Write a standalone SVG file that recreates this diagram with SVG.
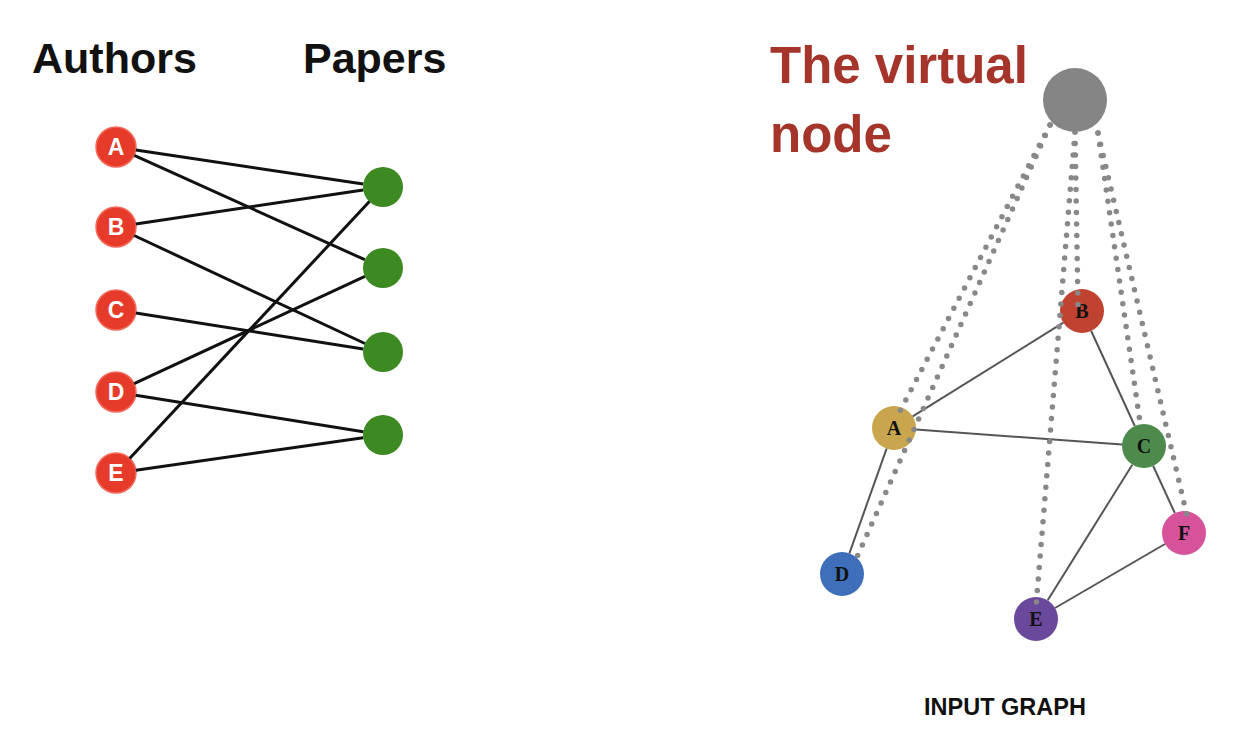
<svg xmlns="http://www.w3.org/2000/svg" width="1246" height="738" viewBox="0 0 1246 738">
<style>
.title{font-family:"Liberation Sans",Arial,sans-serif;font-weight:bold;font-size:43px;fill:#111}
.red{font-family:"Liberation Sans",Arial,sans-serif;font-weight:bold;font-size:51px;fill:#a5352a}
.cap{font-family:"Liberation Sans",Arial,sans-serif;font-weight:bold;font-size:23.5px;fill:#111}
.au{fill:#e63a2a;stroke:#f26a5c;stroke-width:1.5}
.aul{font-family:"Liberation Sans",Arial,sans-serif;font-weight:bold;font-size:23px;fill:#fff;text-anchor:middle}
.pa{fill:#3d8a22}
.gl{font-family:"Liberation Serif","Times New Roman",serif;font-weight:bold;font-size:20px;fill:#111;text-anchor:middle}
.bl{stroke:#111;stroke-width:3;fill:none}
.gr{stroke:#555;stroke-width:2;fill:none}
.dot{stroke:#888;stroke-width:5.5;stroke-linecap:round;stroke-dasharray:0 11.5;fill:none}
</style>
<rect width="1246" height="738" fill="#fff"/>
<text class="title" x="32" y="73">Authors</text>
<text class="title" x="303" y="73">Papers</text>
<text class="red" x="770" y="83">The virtual</text>
<text class="red" x="770" y="152">node</text>
<text class="cap" x="1005" y="715" text-anchor="middle">INPUT GRAPH</text>

<g id="author-A"><circle class="au" cx="116" cy="147" r="20"/><text class="aul" x="116" y="155">A</text></g>
<g id="author-B"><circle class="au" cx="116" cy="227" r="20"/><text class="aul" x="116" y="235">B</text></g>
<g id="author-C"><circle class="au" cx="116" cy="310" r="20"/><text class="aul" x="116" y="318">C</text></g>
<g id="author-D"><circle class="au" cx="116" cy="392" r="20"/><text class="aul" x="116" y="400">D</text></g>
<g id="author-E"><circle class="au" cx="116" cy="473" r="20"/><text class="aul" x="116" y="481">E</text></g>
<g id="paper-1"><circle class="pa" cx="383" cy="187" r="20"/></g>
<g id="paper-2"><circle class="pa" cx="383" cy="268" r="20"/></g>
<g id="paper-3"><circle class="pa" cx="383" cy="352" r="20"/></g>
<g id="paper-4"><circle class="pa" cx="383" cy="435" r="20"/></g>

<g id="virtual-node"><circle cx="1075" cy="100" r="32" fill="#858585"/></g>
<g id="node-B"><circle cx="1082" cy="311" r="22" fill="#bf4330"/><text class="gl" x="1082" y="318">B</text></g>
<g id="node-A"><circle cx="894" cy="428" r="22" fill="#c9a64d"/><text class="gl" x="894" y="435">A</text></g>
<g id="node-C"><circle cx="1144" cy="446" r="22" fill="#4f8a4d"/><text class="gl" x="1144" y="453">C</text></g>
<g id="node-F"><circle cx="1184" cy="533" r="22" fill="#d6529a"/><text class="gl" x="1184" y="540">F</text></g>
<g id="node-D"><circle cx="842" cy="574" r="22" fill="#3f6fba"/><text class="gl" x="842" y="581">D</text></g>
<g id="node-E"><circle cx="1036" cy="619" r="22" fill="#6a489b"/><text class="gl" x="1036" y="626">E</text></g>

<g id="connectors">
<line class="bl" x1="135.8" y1="150" x2="363.2" y2="184"/>
<line class="bl" x1="134.2" y1="155.3" x2="364.8" y2="259.7"/>
<line class="bl" x1="135.8" y1="224" x2="363.2" y2="190"/>
<line class="bl" x1="134.1" y1="235.5" x2="364.9" y2="343.5"/>
<line class="bl" x1="135.8" y1="313.1" x2="363.2" y2="348.9"/>
<line class="bl" x1="134.1" y1="383.6" x2="364.9" y2="276.4"/>
<line class="bl" x1="135.7" y1="395.2" x2="363.3" y2="431.8"/>
<line class="bl" x1="129.6" y1="458.4" x2="369.4" y2="201.6"/>
<line class="bl" x1="135.8" y1="470.2" x2="363.2" y2="437.8"/>

<line class="gr" x1="912.7" y1="416.4" x2="1063.3" y2="322.6"/>
<line class="gr" x1="916" y1="429.6" x2="1122" y2="444.4"/>
<line class="gr" x1="886.6" y1="448.7" x2="849.4" y2="553.3"/>
<line class="gr" x1="1091.2" y1="331" x2="1134.8" y2="426"/>
<line class="gr" x1="1153.2" y1="466" x2="1174.8" y2="513"/>
<line class="gr" x1="1132.3" y1="464.7" x2="1047.7" y2="600.3"/>
<line class="gr" x1="1055" y1="608" x2="1165" y2="544"/>

<line class="dot" x1="1050" y1="125" x2="899" y2="413"/>
<line class="dot" x1="1050" y1="125" x2="857" y2="557"/>
<line class="dot" x1="1075" y1="132" x2="1078" y2="305"/>
<line class="dot" x1="1075" y1="132" x2="1036" y2="607"/>
<line class="dot" x1="1098" y1="133" x2="1140" y2="422"/>
<line class="dot" x1="1098" y1="133" x2="1188" y2="520"/>
</g>
</svg>
